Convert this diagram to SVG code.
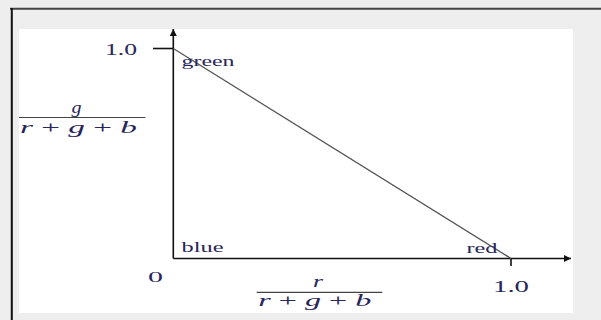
<svg xmlns="http://www.w3.org/2000/svg" width="601" height="320" viewBox="0 0 601 320">
<defs>
<style>
.t{font-family:"Liberation Serif","Times New Roman",serif;fill:#28265a}
.i{font-style:italic}
.ax{stroke:#111;stroke-width:1.6;fill:none}
</style>
<marker id="ah" viewBox="0 0 10 10" refX="10" refY="5" markerWidth="9" markerHeight="7" markerUnits="userSpaceOnUse" orient="auto">
<path d="M0,0 L10,5 L0,10 z" fill="#111"/>
</marker>
</defs>
<rect x="0" y="0" width="601" height="320" fill="#eeeeee"/>
<line x1="10" y1="8.8" x2="601" y2="8.8" stroke="#444" stroke-width="2"/>
<line x1="11.8" y1="8" x2="11.8" y2="320" stroke="#111" stroke-width="2"/>
<rect x="19" y="29" width="554" height="284" fill="#ffffff"/>
<g id="connectors">
<line class="ax" x1="173.3" y1="258.5" x2="173.3" y2="29" marker-end="url(#ah)"/>
<line class="ax" x1="173.3" y1="258.5" x2="571" y2="258.5" marker-end="url(#ah)"/>
<line class="ax" x1="153" y1="48.5" x2="173.3" y2="48.5"/>
<line class="ax" x1="511" y1="258.5" x2="511" y2="266"/>
<line x1="173.3" y1="48.5" x2="511" y2="258.5" stroke="#555" stroke-width="1.3"/>
</g>
<g id="ylabels">
<text class="t" x="105" y="55" font-size="17" textLength="32" lengthAdjust="spacingAndGlyphs">1.0</text>
<text class="t i" x="71.5" y="113" font-size="17" textLength="10" lengthAdjust="spacingAndGlyphs">g</text>
<line x1="19" y1="117.5" x2="145.5" y2="117.5" stroke="#444" stroke-width="1.2"/>
<text class="t" x="20" y="132.5" font-size="17" textLength="117" lengthAdjust="spacingAndGlyphs"><tspan class="i">r</tspan> +  <tspan class="i">g</tspan> +  <tspan class="i">b</tspan></text>
</g>
<g id="corners">
<text class="t" x="181.5" y="66" font-size="15" textLength="53" lengthAdjust="spacingAndGlyphs">green</text>
<text class="t" x="181.5" y="251.7" font-size="15" textLength="42" lengthAdjust="spacingAndGlyphs">blue</text>
<text class="t" x="466.5" y="253.3" font-size="15" textLength="31" lengthAdjust="spacingAndGlyphs">red</text>
</g>
<g id="xlabels">
<text class="t" x="148" y="281.7" font-size="15" textLength="15" lengthAdjust="spacingAndGlyphs">0</text>
<text class="t" x="493" y="291.7" font-size="17" textLength="36" lengthAdjust="spacingAndGlyphs">1.0</text>
<text class="t i" x="313" y="286.7" font-size="17" textLength="10" lengthAdjust="spacingAndGlyphs">r</text>
<line x1="256.7" y1="292.3" x2="382.3" y2="292.3" stroke="#444" stroke-width="1.2"/>
<text class="t" x="258.3" y="306" font-size="17" textLength="113" lengthAdjust="spacingAndGlyphs"><tspan class="i">r</tspan> +  <tspan class="i">g</tspan> +  <tspan class="i">b</tspan></text>
</g>
</svg>
